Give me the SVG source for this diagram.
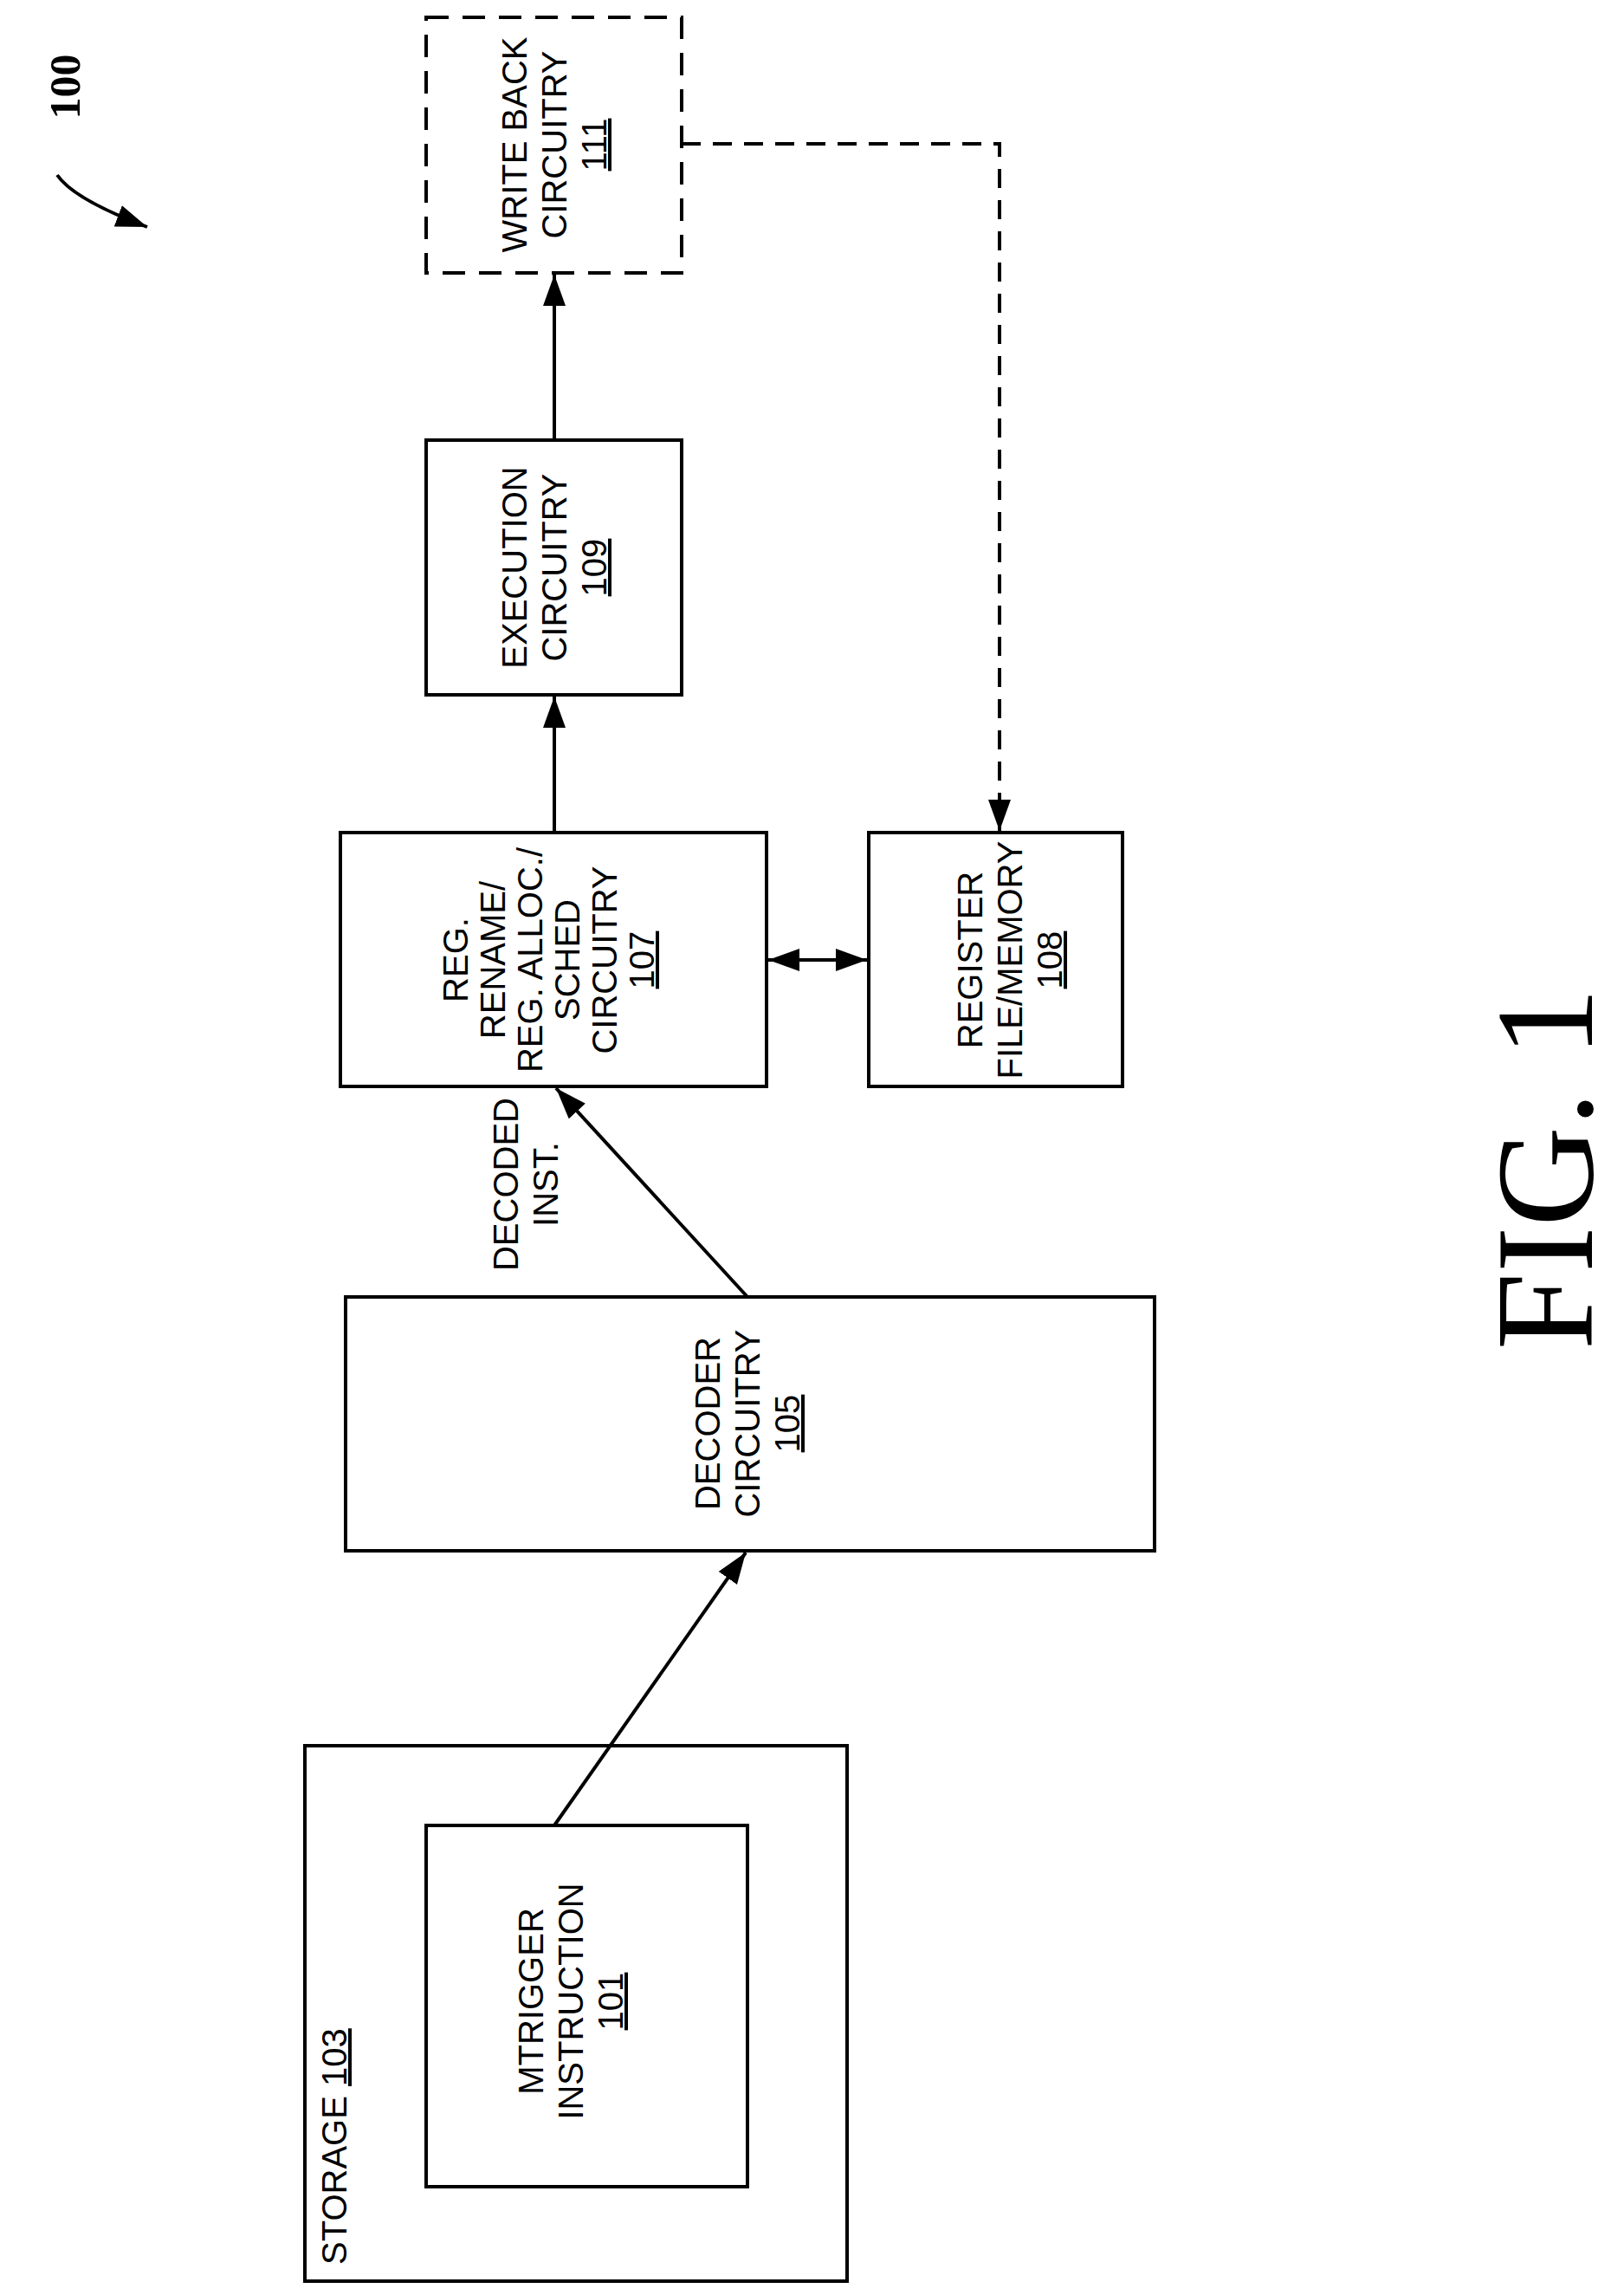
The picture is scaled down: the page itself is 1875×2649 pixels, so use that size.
<svg xmlns="http://www.w3.org/2000/svg" width="1875" height="2649" viewBox="0 0 1875 2649">
<style>
.b{fill:none;stroke:#000;stroke-width:4}
.t{font-family:"Liberation Sans",Arial,sans-serif;font-size:40px;text-anchor:middle;fill:#000}
.u{text-decoration:underline}
.c{fill:none;stroke:#000;stroke-width:4}
</style>
<defs>
<marker id="A" viewBox="0 0 10 10" refX="10" refY="5" markerWidth="36" markerHeight="26" orient="auto-start-reverse" markerUnits="userSpaceOnUse" preserveAspectRatio="none"><path d="M0,0 L10,5 L0,10 z"/></marker>
</defs>
<text transform="translate(92,100) rotate(-90)" style="font-family:'Liberation Serif',serif;font-weight:bold;font-size:50px" text-anchor="middle">100</text>
<path class="c" d="M66 202 Q85 230 170 262" marker-end="url(#A)"/>
<g id="wb"><rect x="492" y="20" width="295" height="295" fill="none" stroke="#000" stroke-width="4" stroke-dasharray="26,16"/>
<g transform="translate(640,167) rotate(-90)"><text class="t" y="-32">WRITE BACK</text><text class="t" y="14">CIRCUITRY</text><text class="t u" y="60">111</text></g></g>
<g id="ex"><rect class="b" x="492" y="508" width="295" height="294"/>
<g transform="translate(640,655) rotate(-90)"><text class="t" y="-32">EXECUTION</text><text class="t" y="14">CIRCUITRY</text><text class="t u" y="60">109</text></g></g>
<g id="rr"><rect class="b" x="393" y="961" width="492" height="293"/>
<g transform="translate(640,1108) rotate(-90)"><text class="t" y="-100">REG.</text><text class="t" y="-57">RENAME/</text><text class="t" y="-14">REG. ALLOC./</text><text class="t" y="29">SCHED</text><text class="t" y="72">CIRCUITRY</text><text class="t u" y="115">107</text></g></g>
<g id="rf"><rect class="b" x="1003" y="961" width="293" height="293"/>
<g transform="translate(1150,1108) rotate(-90)"><text class="t" y="-16">REGISTER</text><text class="t" y="30">FILE/MEMORY</text><text class="t u" y="76">108</text></g></g>
<g id="dec"><rect class="b" x="399" y="1497" width="934" height="293"/>
<g transform="translate(863,1643) rotate(-90)"><text class="t" y="-32">DECODER</text><text class="t" y="14">CIRCUITRY</text><text class="t u" y="60">105</text></g></g>
<g id="st"><rect class="b" x="352" y="2015" width="626" height="618"/>
<text transform="translate(400,2614) rotate(-90)" class="t" style="text-anchor:start">STORAGE <tspan class="u">103</tspan></text></g>
<g id="mt"><rect class="b" x="492" y="2107" width="371" height="417"/>
<g transform="translate(643,2310) rotate(-90)"><text class="t" y="-16">MTRIGGER</text><text class="t" y="30">INSTRUCTION</text><text class="t u" y="76">101</text></g></g>
<g transform="translate(600,1367) rotate(-90)"><text class="t" y="-2">DECODED</text><text class="t" y="44">INST.</text></g>
<text transform="translate(1838,1349) rotate(-90)" style="font-family:'Liberation Serif',serif;font-size:160px" text-anchor="middle">FIG. 1</text>
<g id="connectors">
<line class="c" x1="640" y1="508" x2="640" y2="317" marker-end="url(#A)"/>
<line class="c" x1="640" y1="961" x2="640" y2="804" marker-end="url(#A)"/>
<line class="c" x1="863" y1="1497" x2="642" y2="1256" marker-end="url(#A)"/>
<line class="c" x1="640" y1="2107" x2="861" y2="1792" marker-end="url(#A)"/>
<line class="c" x1="887" y1="1108" x2="1001" y2="1108" marker-start="url(#A)" marker-end="url(#A)"/>
<path class="c" d="M787 166 H1154 V959" stroke-dasharray="22,14" marker-end="url(#A)"/>
</g>
</svg>
